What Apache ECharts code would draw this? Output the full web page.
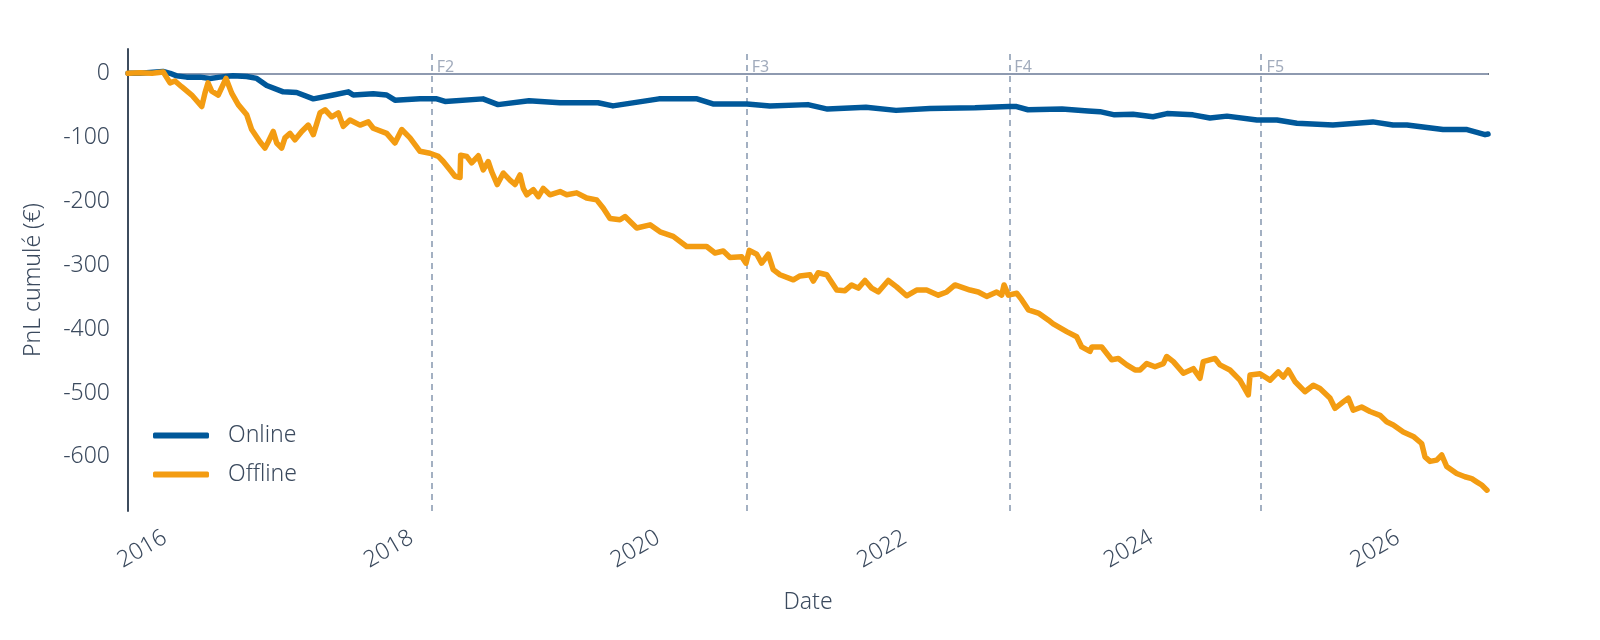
<!DOCTYPE html>
<html>
<head>
<meta charset="utf-8">
<title>PnL cumulé</title>
<script src="https://cdn.jsdelivr.net/npm/echarts@6/dist/echarts.min.js"></script>
<style>
  html, body { margin: 0; padding: 0; background: #fff; }
  #chart { width: 1600px; height: 640px; }
</style>
</head>
<body>
<div id="chart"></div>
<script>
// dates as decimal years, values in euros
var onlineYears = [
    2015.700, 2015.797, 2015.984, 2016.041, 2016.095, 2016.176, 2016.284, 2016.365, 2016.446, 2016.551,
    2016.663, 2016.744, 2016.825, 2016.959, 2017.068, 2017.203, 2017.365, 2017.487, 2017.527, 2017.689,
    2017.798, 2017.865, 2018.068, 2018.204, 2018.271, 2018.579, 2018.701, 2018.952, 2019.204, 2019.512,
    2019.633, 2020.006, 2020.315, 2020.444, 2020.720, 2020.906, 2021.214, 2021.373, 2021.685, 2021.929,
    2022.204, 2022.569, 2022.845, 2022.907, 2022.999, 2023.275, 2023.486, 2023.583, 2023.701, 2023.851,
    2024.013, 2024.127, 2024.337, 2024.475, 2024.613, 2024.856, 2025.018, 2025.180, 2025.472, 2025.796,
    2025.959, 2026.073, 2026.365, 2026.560, 2026.706, 2026.730
];
var onlineValues = [
    0, 0, 3, 0, -4, -6, -6, -8, -6, -4,
    -5, -8, -19, -29, -30, -40, -34, -29, -34, -32,
    -34, -42, -40, -40, -44, -40, -49, -43, -46, -46,
    -51, -40, -40, -48, -48, -51, -49, -56, -53, -58,
    -55, -54, -52, -52, -57, -56, -59, -60, -65, -64,
    -68, -63, -65, -70, -67, -73, -73, -78, -81, -76,
    -81, -81, -88, -88, -96, -95
];

var offlineYears = [
    2015.700, 2015.797, 2015.895, 2015.986, 2016.041, 2016.081, 2016.135, 2016.217, 2016.298, 2016.324,
    2016.349, 2016.379, 2016.432, 2016.495, 2016.541, 2016.594, 2016.663, 2016.703, 2016.770, 2016.811,
    2016.838, 2016.878, 2016.906, 2016.946, 2016.973, 2017.014, 2017.054, 2017.109, 2017.162, 2017.203,
    2017.257, 2017.298, 2017.352, 2017.406, 2017.446, 2017.500, 2017.582, 2017.649, 2017.689, 2017.798,
    2017.865, 2017.920, 2017.987, 2018.068, 2018.149, 2018.217, 2018.257, 2018.311, 2018.352, 2018.393,
    2018.398, 2018.447, 2018.487, 2018.541, 2018.581, 2018.622, 2018.650, 2018.695, 2018.744, 2018.798,
    2018.839, 2018.879, 2018.906, 2018.934, 2018.987, 2019.028, 2019.068, 2019.122, 2019.204, 2019.258,
    2019.339, 2019.420, 2019.501, 2019.555, 2019.609, 2019.690, 2019.731, 2019.826, 2019.934, 2020.015,
    2020.122, 2020.231, 2020.393, 2020.461, 2020.528, 2020.582, 2020.677, 2020.712, 2020.739, 2020.799,
    2020.839, 2020.893, 2020.933, 2020.988, 2021.096, 2021.150, 2021.231, 2021.258, 2021.298, 2021.367,
    2021.448, 2021.515, 2021.569, 2021.623, 2021.677, 2021.731, 2021.785, 2021.866, 2021.934, 2022.015,
    2022.096, 2022.177, 2022.272, 2022.340, 2022.407, 2022.529, 2022.596, 2022.664, 2022.745, 2022.786,
    2022.805, 2022.840, 2022.908, 2022.948, 2023.002, 2023.083, 2023.178, 2023.204, 2023.313, 2023.394,
    2023.435, 2023.502, 2023.518, 2023.597, 2023.678, 2023.732, 2023.800, 2023.867, 2023.908, 2023.962,
    2024.029, 2024.097, 2024.124, 2024.178, 2024.259, 2024.340, 2024.394, 2024.421, 2024.516, 2024.556,
    2024.637, 2024.718, 2024.786, 2024.800, 2024.881, 2024.962, 2025.029, 2025.070, 2025.110, 2025.164,
    2025.245, 2025.313, 2025.367, 2025.448, 2025.489, 2025.556, 2025.597, 2025.637, 2025.705, 2025.773,
    2025.854, 2025.908, 2025.962, 2026.043, 2026.124, 2026.192, 2026.219, 2026.260, 2026.314, 2026.355,
    2026.395, 2026.476, 2026.543, 2026.598, 2026.638, 2026.679, 2026.722
];
var offlineValues = [
    0, 1, 0, 2, -15, -12, -21, -34, -52, -31,
    -15, -28, -34, -8, -31, -49, -65, -88, -107, -117,
    -107, -91, -109, -117, -101, -94, -104, -91, -81, -96,
    -62, -57, -68, -62, -83, -73, -81, -76, -86, -94,
    -109, -88, -101, -122, -125, -130, -138, -151, -161, -163,
    -128, -130, -140, -129, -151, -138, -154, -174, -156, -167,
    -174, -159, -180, -190, -182, -193, -180, -190, -185, -190,
    -187, -195, -198, -211, -227, -229, -224, -242, -237, -248,
    -255, -271, -271, -281, -278, -288, -287, -297, -277, -283,
    -297, -283, -307, -315, -323, -317, -315, -325, -312, -315,
    -339, -340, -331, -336, -324, -336, -342, -324, -334, -348,
    -339, -339, -347, -342, -331, -339, -342, -349, -342, -347,
    -331, -347, -344, -354, -370, -375, -388, -392, -404, -412,
    -428, -435, -428, -428, -448, -446, -456, -464, -464, -454,
    -459, -454, -443, -451, -469, -462, -477, -451, -446, -456,
    -464, -480, -503, -472, -470, -480, -467, -475, -464, -482,
    -498, -488, -493, -508, -524, -514, -508, -527, -522, -529,
    -535, -545, -550, -561, -568, -579, -600, -607, -605, -597,
    -615, -626, -631, -634, -639, -644, -652
];

// phase markers
var phaseNames = ['F2', 'F3', 'F4', 'F5'];
var phaseYears = [2018.163, 2020.718, 2022.848, 2024.894];

var yearTicks = [2016, 2018, 2020, 2022, 2024, 2026];
var pnlTicks = [-600, -500, -400, -300, -200, -100, 0];

var textColor = '#3b4a5e';
var axisColor = '#3e4c5e';
var fontFamily = '"Noto Sans", Lato, sans-serif';

function zip(xs, ys) {
    var out = [];
    for (var i = 0; i < xs.length; i++) {
        out.push([xs[i], ys[i]]);
    }
    return out;
}

var phaseLines = phaseYears.map(function (y) {
    return { xAxis: y, lineStyle: { type: [6, 5], color: '#a3b0c2', width: 2 } };
});
var phaseLabels = phaseYears.map(function (y, i) {
    return { value: [y, 9], name: phaseNames[i] };
});

var myChart = echarts.init(document.getElementById('chart'), null, { renderer: 'canvas' });

var option = {
    animation: false,
    backgroundColor: '#fff',
    textStyle: { fontFamily: fontFamily },
    grid: { left: 128, right: 112, top: 49, bottom: 129 },
    legend: {
        data: ['Online', 'Offline'],
        orient: 'vertical',
        left: 148,
        top: 419,
        icon: 'roundRect',
        itemWidth: 56,
        itemHeight: 6,
        itemGap: 16,
        textStyle: { color: textColor, fontSize: 23, fontWeight: 300, fontFamily: fontFamily, padding: [0, 0, 0, 14] }
    },
    xAxis: {
        type: 'value',
        min: 2015.700,
        max: 2026.730,
        name: 'Date',
        nameLocation: 'middle',
        nameGap: 80,
        nameTextStyle: { color: textColor, fontSize: 23, fontWeight: 300 },
        axisLine: { show: true, lineStyle: { color: axisColor, width: 2 } },
        axisTick: { show: false },
        splitLine: { show: false },
        axisLabel: {
            customValues: yearTicks,
            rotate: 30,
            margin: 25,
            color: textColor,
            fontSize: 23,
            fontWeight: 300,
            formatter: function (v) { return String(Math.round(v)); }
        }
    },
    yAxis: {
        type: 'value',
        min: -684.6,
        max: 38,
        name: 'PnL cumulé (€)',
        nameLocation: 'middle',
        nameGap: 83,
        nameTextStyle: { color: textColor, fontSize: 23, fontWeight: 300 },
        axisLine: { show: true, lineStyle: { color: axisColor, width: 2 } },
        axisTick: { show: false },
        splitLine: { show: false },
        axisLabel: {
            customValues: pnlTicks,
            margin: 18,
            color: textColor,
            fontSize: 23,
            fontWeight: 300
        }
    },
    series: [{
        name: 'Online',
        type: 'line',
        data: zip(onlineYears, onlineValues),
        showSymbol: false,
        symbol: 'none',
        color: '#00589a',
        lineStyle: { width: 5.5, color: '#00589a', cap: 'round', join: 'round' },
        z: 3,
        markLine: {
            silent: true,
            symbol: 'none',
            label: { show: false },
            z: 1,
            data: [
                { yAxis: 0, lineStyle: { type: 'solid', color: '#8e9ab0', width: 2 } }
            ].concat(phaseLines)
        }
    }, {
        name: 'Offline',
        type: 'line',
        data: zip(offlineYears, offlineValues),
        showSymbol: false,
        symbol: 'none',
        color: '#f39c12',
        lineStyle: { width: 5.5, color: '#f39c12', cap: 'round', join: 'round' },
        z: 4
    }, {
        name: 'phases',
        type: 'scatter',
        data: phaseLabels,
        symbolSize: 0,
        silent: true,
        label: {
            show: true,
            position: 'right',
            distance: 5,
            formatter: '{b}',
            color: '#8a96ab',
            fontSize: 16
        },
        z: 2
    }]
};

myChart.setOption(option);
</script>
</body>
</html>
